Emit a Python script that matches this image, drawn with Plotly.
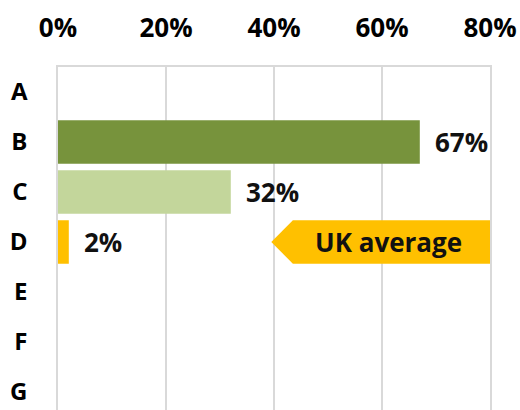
import plotly.graph_objects as go

# Categories (top to bottom) and their shares in percent
categories = ["A", "B", "C", "D", "E", "F", "G"]
shares = [None, 67, 32, 2, None, None, None]
bar_colors = ["#77933C", "#77933C", "#C3D69B", "#FFC000", "#FFC000", "#FFC000", "#FFC000"]
x_ticks = [0, 20, 40, 60, 80]
x_tick_labels = ["0%", "20%", "40%", "60%", "80%"]

# Callout marking the UK average row
uk_label = "UK average"
uk_row = 3
uk_tip = 39.5
uk_body_start = 43.5
uk_body_end = 80

FONT = "Open Sans"
FSIZE = 26
GRID = "#D9D9D9"
BAR_W = 0.87

positions = list(range(len(categories)))

fig = go.Figure()
fig.add_trace(go.Bar(
    x=shares,
    y=positions,
    orientation="h",
    width=BAR_W,
    marker=dict(color=bar_colors, line=dict(width=0)),
    hoverinfo="skip",
))

# value labels to the right of each bar
for pos, val in zip(positions, shares):
    if val is None:
        continue
    fig.add_annotation(
        x=val, y=pos, xref="x", yref="y",
        text=f"{val}%", showarrow=False,
        xanchor="left", yanchor="middle", xshift=13,
        font=dict(family=FONT, size=FSIZE, color="#111111", weight="bold"),
    )

# left-pointing callout
h = BAR_W / 2
path = (
    f"M {uk_tip},{uk_row} L {uk_body_start},{uk_row - h} L {uk_body_end},{uk_row - h} "
    f"L {uk_body_end},{uk_row + h} L {uk_body_start},{uk_row + h} Z"
)
fig.add_shape(type="path", path=path, xref="x", yref="y",
              fillcolor="#FFC000", line=dict(width=0), layer="above")
fig.add_annotation(
    x=(uk_body_start + uk_body_end) / 2 - 0.5, y=uk_row, xref="x", yref="y",
    text=uk_label, showarrow=False, xanchor="center", yanchor="middle",
    font=dict(family=FONT, size=FSIZE, color="#111111", weight="bold"),
)

fig.update_layout(
    width=520, height=410,
    margin=dict(l=58, r=30, t=67, b=0),
    paper_bgcolor="white", plot_bgcolor="white",
    showlegend=False,
    font=dict(family=FONT, size=FSIZE, color="black"),
)
fig.update_xaxes(
    side="top", range=[0, 80],
    tickvals=x_ticks, ticktext=x_tick_labels,
    tickfont=dict(family=FONT, size=FSIZE, color="black", weight="bold"),
    showgrid=True, gridcolor=GRID, gridwidth=1.5,
    zeroline=False,
    showline=True, linecolor=GRID, linewidth=1.5,
    ticks="", ticklabelstandoff=18,
    fixedrange=True,
)
fig.update_yaxes(
    range=[6.36, -0.5],
    tickvals=positions, ticktext=categories,
    tickfont=dict(family=FONT, size=FSIZE - 2, color="black", weight="bold"),
    showgrid=False, zeroline=False,
    showline=True, mirror=True, linecolor=GRID, linewidth=1.5,
    ticks="", ticklabelstandoff=24,
    fixedrange=True,
)

fig.write_html("out.html")
